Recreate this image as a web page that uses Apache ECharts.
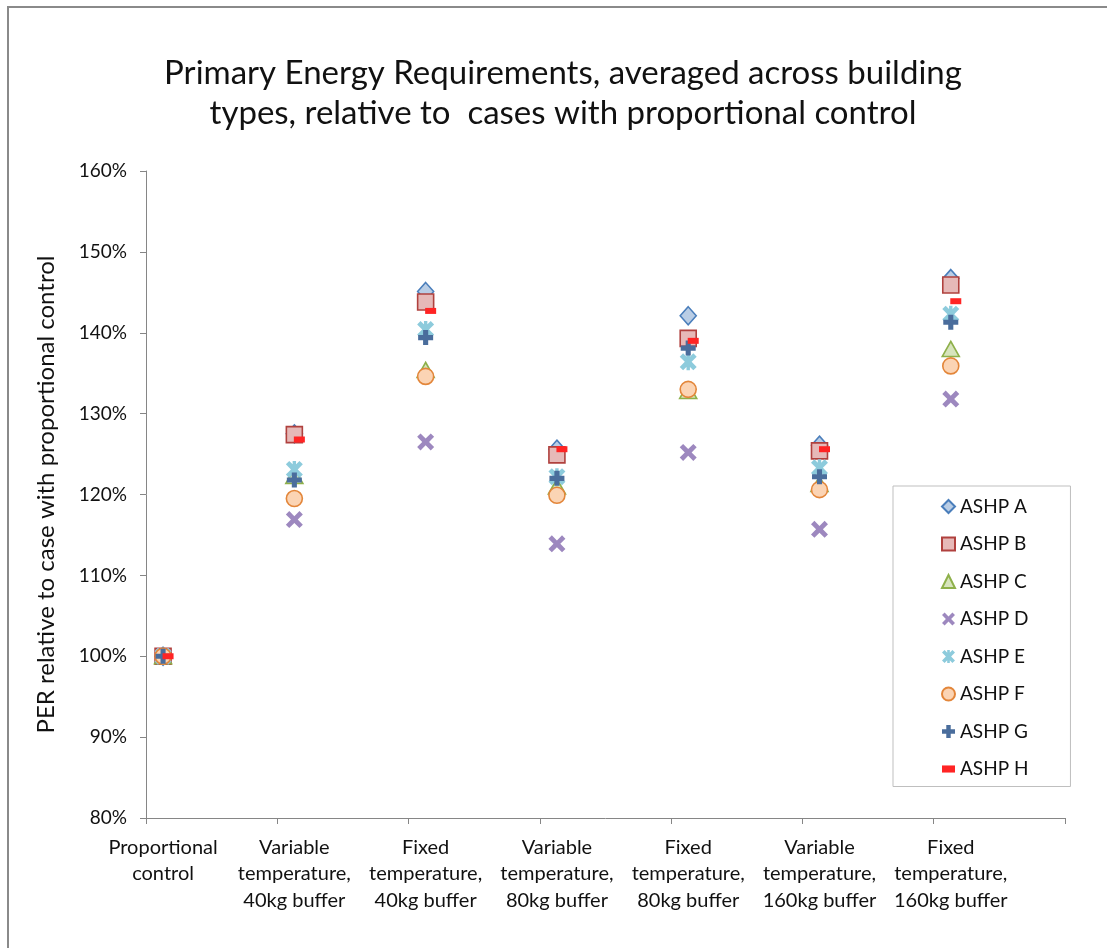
<!DOCTYPE html>
<html>
<head>
<meta charset="utf-8">
<script src="https://cdn.jsdelivr.net/npm/echarts@6/dist/echarts.min.js"></script>
<style>
  html, body { margin: 0; padding: 0; background: #fff; }
  #chart { width: 1107px; height: 948px; }
</style>
</head>
<body>
<div id="chart"></div>
<script>
// categorias del eje x
var categories = [
  "Proportional\ncontrol",
  "Variable\ntemperature,\n40kg buffer",
  "Fixed\ntemperature,\n40kg buffer",
  "Variable\ntemperature,\n80kg buffer",
  "Fixed\ntemperature,\n80kg buffer",
  "Variable\ntemperature,\n160kg buffer",
  "Fixed\ntemperature,\n160kg buffer"
];

// valores (%)
var ashpA = [100, 127.5, 145.1, 125.6, 142.1, 126.1, 146.7];
var ashpB = [100, 127.4, 143.8, 124.9, 139.3, 125.4, 145.9];
var ashpC = [100, 122.3, 135.4, 121.0, 132.8, 121.3, 138.0];
var ashpD = [100, 116.9, 126.5, 113.9, 125.2, 115.7, 131.8];
var ashpE = [100, 123.1, 140.4, 122.2, 136.4, 123.3, 142.3];
var ashpF = [100, 119.5, 134.6, 119.9, 133.0, 120.6, 135.9];
var ashpG = [100, 121.8, 139.4, 122.0, 138.1, 122.2, 141.3];
var ashpH = [100, 126.8, 142.7, 125.6, 139.0, 125.6, 143.9];

var yTicks = [80, 90, 100, 110, 120, 130, 140, 150, 160];

var xMin = 0.87;
var xMax = 7.87;

// formas de los marcadores
var xShape = "path://M0,2 L2,0 L5,3 L8,0 L10,2 L7,5 L10,8 L8,10 L5,7 L2,10 L0,8 L3,5 Z";
var starShape = "path://M0,2 L2,0 L5,3 L8,0 L10,2 L7,5 L10,8 L8,10 L5,7 L2,10 L0,8 L3,5 Z M4,0 L6,0 L6,10 L4,10 Z";
var plusShape = "path://M3.3,0 L6.7,0 L6.7,3.3 L10,3.3 L10,6.7 L6.7,6.7 L6.7,10 L3.3,10 L3.3,6.7 L0,6.7 L0,3.3 L3.3,3.3 Z";
var dashShape = "path://M0,0 L11,0 L11,6 L0,6 Z";

function toPoints(values) {
  return values.map(function (v, i) { return [i + 1, v]; });
}

function serie(name, values, symbol, size, fill, border, offset) {
  return {
    name: name,
    type: "scatter",
    data: toPoints(values),
    symbol: symbol,
    symbolSize: size,
    symbolOffset: offset || [0, 0],
    itemStyle: {
      color: fill,
      borderColor: border,
      borderWidth: border ? 1.6 : 0,
      opacity: 1
    },
    emphasis: { disabled: true }
  };
}

document.addEventListener("DOMContentLoaded", function () {
  var chart = echarts.init(document.querySelector("#chart"));

  var tickValues = [];
  for (var t = xMin; t <= xMax + 0.001; t += 1) tickValues.push(t);

  chart.setOption({
    animation: false,
    textStyle: { fontFamily: "Lato" },
    title: {
      text: "Primary Energy Requirements, averaged across building\ntypes, relative to  cases with proportional control",
      left: 558,
      top: 48,
      textAlign: "center",
      textStyle: {
        fontFamily: "Lato",
        fontWeight: "normal",
        fontSize: 33,
        lineHeight: 40,
        color: "#111"
      }
    },
    graphic: [
      {
        type: "rect",
        shape: { x: 8, y: 7, width: 1130, height: 980 },
        style: { fill: "none", stroke: "#8a8a8a", lineWidth: 2 },
        silent: true
      }
    ],
    grid: {
      left: 146,
      right: 42,
      top: 171,
      bottom: 130
    },
    legend: {
      orient: "vertical",
      left: 893,
      top: 486,
      padding: [11, 42, 8, 48],
      itemWidth: 13,
      itemHeight: 13,
      itemGap: 18.5,
      borderColor: "#bfbfbf",
      borderWidth: 1,
      backgroundColor: "#fff",
      textStyle: { fontFamily: "Lato", fontSize: 19, color: "#111" },
      data: ["ASHP A", "ASHP B", "ASHP C", "ASHP D", "ASHP E", "ASHP F", "ASHP G",
        { name: "ASHP H", icon: dashShape }]
    },
    xAxis: {
      type: "value",
      min: xMin,
      max: xMax,
      splitLine: { show: false },
      axisLine: { show: true, lineStyle: { color: "#868686", width: 1 } },
      axisTick: {
        show: true,
        length: 6,
        lineStyle: { color: "#868686" },
        customValues: tickValues
      },
      axisLabel: {
        customValues: [1, 2, 3, 4, 5, 6, 7],
        formatter: function (v) { return categories[Math.round(v) - 1] || ""; },
        fontFamily: "Lato",
        fontSize: 20,
        lineHeight: 26.5,
        color: "#111",
        margin: 16,
        align: "center"
      }
    },
    yAxis: {
      type: "value",
      min: 80,
      max: 160,
      interval: 10,
      name: "PER relative to case with proportional control",
      nameLocation: "middle",
      nameGap: 88,
      nameTextStyle: { fontFamily: "Lato", fontSize: 24, color: "#111" },
      splitLine: { show: false },
      axisLine: { show: true, lineStyle: { color: "#868686", width: 1 } },
      axisTick: { show: true, length: 6, lineStyle: { color: "#868686" } },
      axisLabel: {
        formatter: function (v) { return yTicks.indexOf(v) >= 0 ? v + "%" : ""; },
        fontFamily: "Lato",
        fontSize: 19,
        color: "#111",
        margin: 19
      }
    },
    series: [
      serie("ASHP A", ashpA, "diamond", [16, 18], "#B9CDE5", "#4A7EBB"),
      serie("ASHP B", ashpB, "rect", 16, "#E6B9B8", "#B0413E"),
      serie("ASHP C", ashpC, "triangle", [17, 15], "#D7E4BD", "#8EB04A"),
      serie("ASHP D", ashpD, xShape, 17, "#9D88BF"),
      serie("ASHP E", ashpE, starShape, 17, "#8DCBDC"),
      serie("ASHP F", ashpF, "circle", 16, "#FBD4B4", "#E3863A"),
      serie("ASHP G", ashpG, plusShape, 15, "#4A6D9C"),
      serie("ASHP H", ashpH, dashShape, [11, 6], "#FF2424", null, [5, 0])
    ]
  });
});
</script>
</body>
</html>
